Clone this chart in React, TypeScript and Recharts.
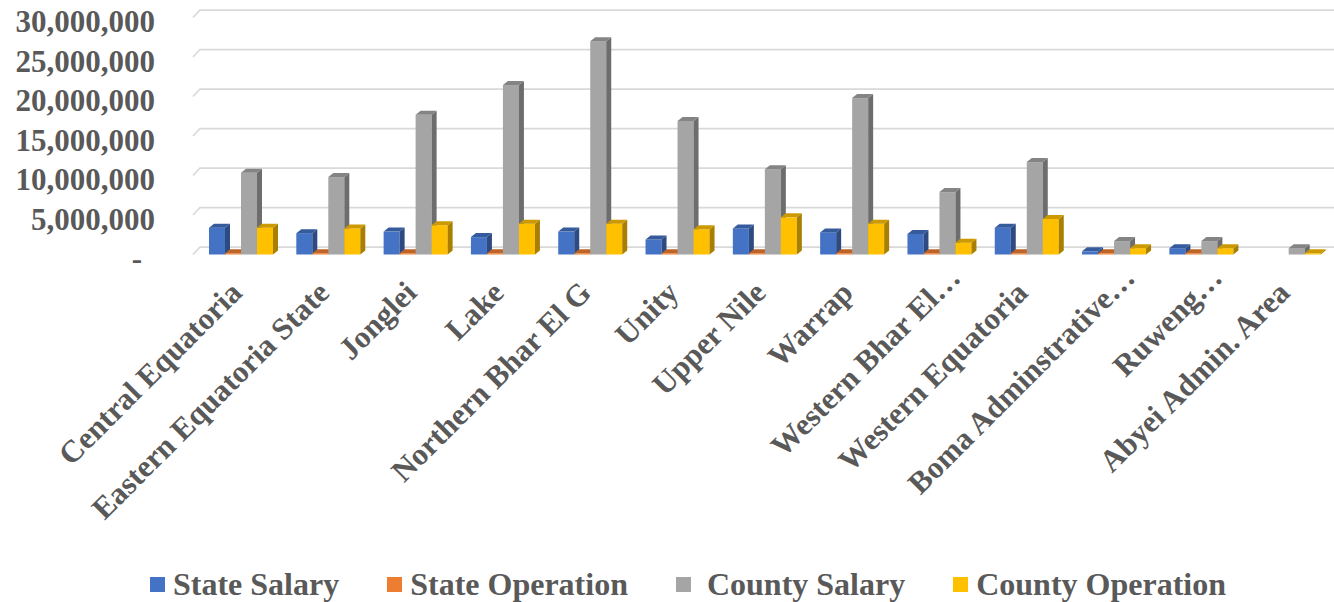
import React from 'react';
import { BarChart, Bar, XAxis, YAxis, CartesianGrid, Legend } from 'recharts';

const categories = [
  'Central Equatoria',
  'Eastern Equatoria State',
  'Jonglei',
  'Lake',
  'Northern Bhar El G',
  'Unity',
  'Upper Nile',
  'Warrap',
  'Western Bhar El…',
  'Western Equatoria',
  'Boma Adminstrative…',
  'Ruweng…',
  'Abyei Admin. Area',
];

const stateSalary = [3400000, 2700000, 2900000, 2200000, 2900000, 1900000, 3300000, 2800000, 2600000, 3400000, 400000, 800000, null];
const stateOperation = [150000, 150000, 150000, 150000, 150000, 150000, 150000, 150000, 150000, 150000, 150000, 150000, null];
const countySalary = [10350000, 9800000, 17700000, 21450000, 27000000, 16900000, 10800000, 19800000, 7900000, 11700000, 1700000, 1700000, 800000];
const countyOperation = [3400000, 3300000, 3700000, 3900000, 3900000, 3200000, 4700000, 3900000, 1500000, 4500000, 800000, 800000, 150000];

const yTicks = [0, 5000000, 10000000, 15000000, 20000000, 25000000, 30000000];
const seriesKeys = ['stateSalary', 'stateOperation', 'countySalary', 'countyOperation'];
const seriesNames = ['State Salary', 'State Operation', ' County Salary', 'County Operation'];
const seriesColors = ['#4472C4', '#ED7D31', '#A5A5A5', '#FFC000'];

const data = categories.map((name, i) => ({
  name,
  stateSalary: stateSalary[i],
  stateOperation: stateOperation[i],
  countySalary: countySalary[i],
  countyOperation: countyOperation[i],
}));

const FONT = "'Liberation Serif', 'Times New Roman', serif";
const TEXT = '#595959';

function shade(hex: string, f: number) {
  const n = parseInt(hex.slice(1), 16);
  const r = Math.round(((n >> 16) & 255) * f);
  const g = Math.round(((n >> 8) & 255) * f);
  const b = Math.round((n & 255) * f);
  return `rgb(${r},${g},${b})`;
}

const makeShape = (color: string) => (props: any) => {
  const { x, y, width, height } = props;
  if (x == null || y == null || !width || height == null || height < 0) return <g />;
  const d = 5;
  const e = 4;
  const w = width;
  const h = height;
  return (
    <g>
      <rect x={x} y={y} width={w} height={h} fill={color} />
      <path
        d={`M${x + w},${y} L${x + w + d},${y - e} L${x + w + d},${y + h - e} L${x + w},${y + h} Z`}
        fill={shade(color, 0.66)}
      />
      <path
        d={`M${x},${y} L${x + d},${y - e} L${x + w + d},${y - e} L${x + w},${y} Z`}
        fill={shade(color, 0.8)}
      />
    </g>
  );
};

const gridLine = (p: any) => {
  const { x1, y1, x2 } = p;
  return (
    <path
      key={`g-${p.index}-${y1}`}
      d={`M${x1 - 4},${y1} L${x1 + 3},${y1 - 7.5} L${x2 + 2},${y1 - 7.5}`}
      fill="none"
      stroke="#D9D9D9"
      strokeWidth={1.75}
    />
  );
};

const YTick = (props: any) => {
  const { x, y, payload } = props;
  const zero = payload.value === 0;
  const label = zero ? '-' : Number(payload.value).toLocaleString('en-US');
  return (
    <text
      x={zero ? x - 13 : x}
      y={y + 3.5}
      dy="0.355em"
      textAnchor="end"
      fill={TEXT}
      fontFamily={FONT}
      fontWeight="bold"
      fontSize={31}
    >
      {label}
    </text>
  );
};

const XTick = (props: any) => {
  const { x, y, payload } = props;
  const v = String(payload.value);
  const trunc = v.endsWith('…');
  const ax = x + 3 + (trunc ? 20 : 0);
  const ay = y + 40 + (trunc ? -15 : 0);
  return (
    <text
      x={ax}
      y={ay}
      textAnchor="end"
      transform={`rotate(-45 ${ax} ${ay})`}
      fill={TEXT}
      fontFamily={FONT}
      fontWeight="bold"
      fontSize={31}
    >
      {v}
    </text>
  );
};

const LegendContent = () => (
  <div
    style={{
      display: 'flex',
      alignItems: 'center',
      height: 35,
      paddingLeft: 150,
      fontFamily: FONT,
      fontWeight: 'bold',
      fontSize: 32,
      color: TEXT,
      lineHeight: '35px',
    }}
  >
    {seriesNames.map((n, i) => (
      <div key={n} style={{ display: 'flex', alignItems: 'center', marginRight: 48 }}>
        <div style={{ width: 15, height: 15, background: seriesColors[i], marginRight: 8 }} />
        <span style={{ whiteSpace: 'pre' }}>{n}</span>
      </div>
    ))}
  </div>
);

export default function App() {
  return (
    <div style={{ width: 1334, height: 602, background: '#fff' }}>
      <style>{'body{margin:0;}'}</style>
      <BarChart
        width={1334}
        height={602}
        data={data}
        margin={{ top: 17.5, right: 2, bottom: 0, left: 0 }}
        barGap={0}
        barSize={16}
      >
        <CartesianGrid vertical={false} horizontal={gridLine} />
        <XAxis
          dataKey="name"
          interval={0}
          tickLine={false}
          axisLine={false}
          tickSize={0}
          tickMargin={0}
          height={312.5}
          tick={<XTick />}
        />
        <YAxis
          domain={[0, 30000000]}
          ticks={yTicks}
          width={197}
          tickLine={false}
          axisLine={false}
          tickSize={0}
          tickMargin={42}
          tick={<YTick />}
          interval={0}
        />
        <Legend verticalAlign="bottom" content={<LegendContent />} />
        {seriesKeys.map((k, i) => (
          <Bar
            key={k}
            dataKey={k}
            name={seriesNames[i]}
            fill={seriesColors[i]}
            isAnimationActive={false}
            shape={makeShape(seriesColors[i])}
          />
        ))}
      </BarChart>
    </div>
  );
}
